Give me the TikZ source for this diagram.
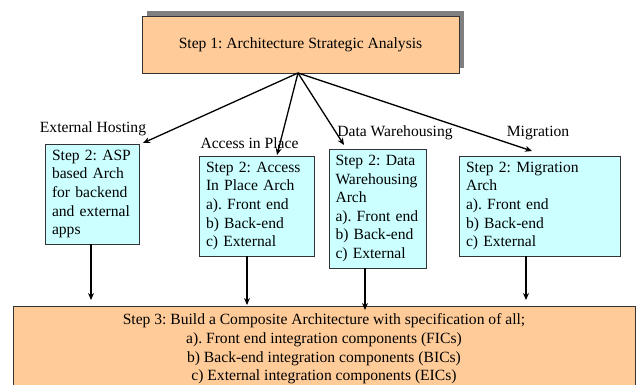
\documentclass[tikz,border=0pt]{standalone}
\usepackage{fontspec}
\setmainfont{Liberation Serif}
\usetikzlibrary{arrows.meta,shadows}
\definecolor{stepor}{HTML}{FFCC99}
\definecolor{stepcy}{HTML}{CCFFFF}
\frenchspacing
\begin{document}
\begin{tikzpicture}[x=1pt,y=-1pt]
\tikzstyle{txt} = [font=\fontsize{15.6}{18.6}\selectfont] %text
\tikzstyle{og} = [txt,draw=black!80,fill=stepor,align=center] %orange step
\tikzstyle{cy} = [txt,draw=black!80,fill=stepcy,align=left,inner xsep=7pt,inner ysep=4pt] %cyan step
\tikzstyle{de} = [-{Stealth[length=7pt,width=6pt]},line width=1.3pt] %directed edge
\useasboundingbox (0,0) rectangle (643,385);
\node[og,minimum width=317,minimum height=57,
  drop shadow={shadow xshift=5pt,shadow yshift=4.5pt,fill=black!50,opacity=1}]
  (s1) at (300.5,44.5) {Step 1: Architecture Strategic Analysis};
\node[cy,text width=80,minimum height=100](b1) at (92,194)
  {Step 2: ASP\\based Arch\\for backend\\and external\\apps};
\node[cy,text width=101,minimum height=100](b2) at (256.5,206)
  {Step 2: Access\\In Place Arch\\a). Front end\\b) Back-end\\c) External};
\node[cy,text width=84,inner xsep=6.5pt,minimum height=119](b3) at (377.5,208.5)
  {Step 2: Data\\Warehousing\\Arch\\a). Front end\\b) Back-end\\c) External};
\node[cy,text width=147,minimum height=100](b4) at (539.5,206)
  {Step 2: Migration\\Arch\\a). Front end\\b) Back-end\\c) External};
\node[og,minimum width=622,minimum height=86](s3) at (324,349)
  {Step 3: Build a Composite Architecture with specification of all;\\
   a). Front end integration components (FICs)\\
   b) Back-end integration components (BICs)\\
   c) External integration components (EICs)};
\node[txt](la) at (93,129) {External Hosting};
\node[txt](lb) at (249.5,143) {Access in Place};
\node[txt](lc) at (395,133) {Data Warehousing};
\node[txt](ld) at (538,133) {Migration};
\coordinate (o) at (298,73);
\coordinate (ta) at (143,143);
\coordinate (tb) at (277,155);
\coordinate (tc) at (344,145);
\coordinate (td) at (532,151);
\coordinate (ea) at (91,300);
\coordinate (eb) at (247,305);
\coordinate (ec) at (365,310);
\coordinate (ed) at (526,300);
\draw[de] (o) -- (ta);
\draw[de] (o) -- (tb);
\draw[de] (o) -- (tc);
\draw[de] (o) -- (td);
\draw[de] (b1.south -| ea) -- (ea);
\draw[de] (b2.south -| eb) -- (eb);
\draw[de] (b3.south -| ec) -- (ec);
\draw[de] (b4.south -| ed) -- (ed);
\end{tikzpicture}
\end{document}
